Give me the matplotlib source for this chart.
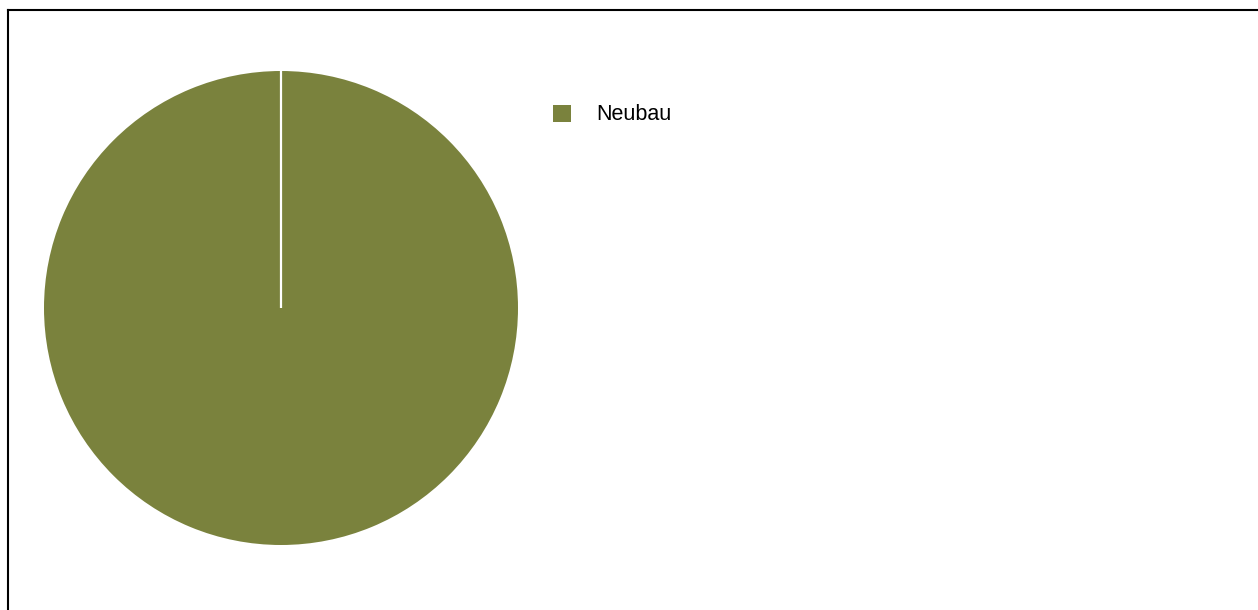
import matplotlib
matplotlib.use("Agg")
import matplotlib.pyplot as plt
from matplotlib.patches import Patch
from matplotlib.lines import Line2D

plt.rcParams['font.family'] = ['Liberation Sans', 'DejaVu Sans']

# Data
labels = ["Neubau"]
values = [100.0]
colors = ["#7A823D"]

W, H = 1258, 610
fig = plt.figure(figsize=(W / 100, H / 100), dpi=100)

# Pie axes: centre (281, 308) px from top-left, radius 237 px
cx, cy, r = 281, 308, 237
ax = fig.add_axes([(cx - r) / W, (H - cy - r) / H, 2 * r / W, 2 * r / H])
wedges, _ = ax.pie(values, colors=colors, startangle=90, counterclock=False,
                   radius=1.0, wedgeprops=dict(linewidth=0))
# white separator at the slice boundary
ax.plot([0, 0], [0, 1.0], color="white", linewidth=1.6, solid_capstyle="butt")
ax.set_xlim(-1, 1)
ax.set_ylim(-1, 1)
ax.set_aspect("equal")
ax.axis("off")

# Legend
fs = 15.5
px = fs * 100 / 72
handles = [Patch(facecolor=c, edgecolor="none") for c in colors]
side = 18 / px
leg = fig.legend(handles, labels, loc="upper left",
                 bbox_to_anchor=(553 / W, 1 - 104.5 / H),
                 frameon=False, fontsize=fs, borderpad=0, borderaxespad=0,
                 handlelength=side, handleheight=side,
                 handletextpad=(596 - 571) / px)

# Outer frame
lw = 1.5
fig.add_artist(Line2D([7.5 / W, 7.5 / W], [0, 1 - 9.5 / H], color="black",
                      linewidth=lw, transform=fig.transFigure))
fig.add_artist(Line2D([7.5 / W, 1], [1 - 9.5 / H, 1 - 9.5 / H], color="black",
                      linewidth=lw, transform=fig.transFigure, solid_capstyle="projecting"))

fig.savefig("out.png", dpi=100, facecolor="white")
